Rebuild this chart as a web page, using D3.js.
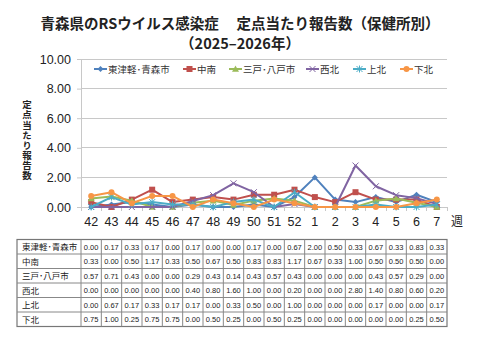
<!DOCTYPE html>
<html><head><meta charset="utf-8">
<script src="https://cdn.jsdelivr.net/npm/d3@7"></script>
<style>
html,body{margin:0;padding:0;background:#fff;}
svg{display:block;font-family:"Noto Sans CJK JP","Noto Sans",sans-serif;}
</style></head>
<body>
<svg id="c" width="480" height="360"></svg>
<script>
const weeks = ["42","43","44","45","46","47","48","49","50","51","52","1","2","3","4","5","6","7"];
const seriesNames = ["東津軽･青森市","中南","三戸･八戸市","西北","上北","下北"];
const higashiTsugaru = [0.00,0.17,0.33,0.17,0.00,0.17,0.00,0.00,0.17,0.00,0.67,2.00,0.50,0.33,0.67,0.33,0.83,0.33];
const chunan = [0.33,0.00,0.50,1.17,0.33,0.50,0.67,0.50,0.83,0.83,1.17,0.67,0.33,1.00,0.50,0.50,0.50,0.00];
const sannohe = [0.57,0.71,0.43,0.00,0.00,0.29,0.43,0.14,0.43,0.57,0.43,0.00,0.00,0.00,0.43,0.57,0.29,0.00];
const seihoku = [0.00,0.00,0.00,0.00,0.00,0.40,0.80,1.60,1.00,0.00,0.20,0.00,0.00,2.80,1.40,0.80,0.60,0.20];
const kamikita = [0.00,0.67,0.17,0.33,0.17,0.17,0.00,0.33,0.50,0.00,1.00,0.00,0.00,0.00,0.17,0.00,0.00,0.17];
const shimokita = [0.75,1.00,0.25,0.75,0.75,0.00,0.50,0.25,0.00,0.50,0.25,0.00,0.00,0.00,0.00,0.00,0.25,0.50];
const yTicks = [0,2,4,6,8,10];
const colors = ["#4F81BD","#C0504D","#9BBB59","#8064A2","#4BACC6","#F79646"];
const markers = ["diamond","square","triangle","x","star","circle"];
const allSeries = [higashiTsugaru,chunan,sannohe,seihoku,kamikita,shimokita];

const svg = d3.select("#c");
const L = 81, R = 447, T = 59, B = 207;
const x = d3.scaleBand().domain(weeks).range([L,R]);
const y = d3.scaleLinear().domain([0,10]).range([B,T]);

// title
svg.append("text").attr("x",240).attr("y",29).attr("text-anchor","middle")
  .attr("font-size",14.5).attr("font-weight","bold").attr("fill","#222")
  .text("青森県のRSウイルス感染症\u3000 定点当たり報告数（保健所別）");
svg.append("text").attr("x",240).attr("y",49).attr("text-anchor","middle")
  .attr("font-size",14.5).attr("font-weight","bold").attr("fill","#222")
  .text("（2025–2026年）");

// gridlines
svg.append("g").selectAll("line").data(yTicks).join("line")
  .attr("x1",L).attr("x2",R).attr("y1",d=>y(d)).attr("y2",d=>y(d))
  .attr("stroke","#c8c8c8").attr("stroke-width",1).attr("shape-rendering","crispEdges");

// y axis
const yAxis = svg.append("g").attr("transform",`translate(${L},0)`)
  .call(d3.axisLeft(y).tickValues(yTicks).tickFormat(d3.format(".2f")).tickSize(4).tickPadding(6));
yAxis.select(".domain").attr("stroke","#c8c8c8");
yAxis.selectAll(".tick line").attr("stroke","#c8c8c8");
yAxis.selectAll("text").attr("font-size",12.5).attr("fill","#222").attr("font-family","Liberation Sans, Arial, sans-serif");

// x axis
const xAxis = svg.append("g").attr("transform",`translate(0,${B})`)
  .call(d3.axisBottom(x).tickSize(0).tickPadding(10));
xAxis.select(".domain").attr("stroke","#c8c8c8");
xAxis.selectAll("text").attr("font-size",12.5).attr("fill","#222").attr("font-family","Liberation Sans, Arial, sans-serif");
svg.append("g").selectAll("line").data(d3.range(weeks.length+1)).join("line")
  .attr("x1",i=>L+i*x.step()).attr("x2",i=>L+i*x.step())
  .attr("y1",B).attr("y2",B+4).attr("stroke","#c8c8c8").attr("shape-rendering","crispEdges");
svg.append("text").attr("x",457).attr("y",226).attr("text-anchor","middle")
  .attr("font-size",12).attr("fill","#222").text("週");

// y axis title (vertical)
svg.append("text").attr("x",27).attr("y",100)
  .attr("writing-mode","vertical-rl").style("writing-mode","vertical-rl")
  .attr("font-size",9.5).attr("letter-spacing",0.6).attr("font-weight","bold").attr("fill","#222")
  .text("定点当たり報告数");

function drawMarker(g, type, cx, cy, color){
  const s = 3;
  if(type==="diamond"){
    g.append("path").attr("d",`M${cx},${cy-s}L${cx+s},${cy}L${cx},${cy+s}L${cx-s},${cy}Z`).attr("fill",color);
  } else if(type==="square"){
    g.append("rect").attr("x",cx-3).attr("y",cy-3).attr("width",6).attr("height",6).attr("fill",color);
  } else if(type==="triangle"){
    g.append("path").attr("d",`M${cx},${cy-3.5}L${cx+3.5},${cy+2.8}L${cx-3.5},${cy+2.8}Z`).attr("fill",color);
  } else if(type==="x"){
    g.append("path").attr("d",`M${cx-3},${cy-3}L${cx+3},${cy+3}M${cx-3},${cy+3}L${cx+3},${cy-3}`).attr("stroke",color).attr("stroke-width",1);
  } else if(type==="star"){
    g.append("path").attr("d",`M${cx-3},${cy-3}L${cx+3},${cy+3}M${cx-3},${cy+3}L${cx+3},${cy-3}M${cx},${cy-3.5}L${cx},${cy+3.5}`).attr("stroke",color).attr("stroke-width",1);
  } else {
    g.append("circle").attr("cx",cx).attr("cy",cy).attr("r",3).attr("fill",color);
  }
}

const cx = d => x(d) + x.bandwidth()/2;
const line = d3.line().x((d,i)=>cx(weeks[i])).y(d=>y(d));
allSeries.forEach((vals,si)=>{
  const g = svg.append("g");
  g.append("path").datum(vals).attr("d",line).attr("fill","none")
    .attr("stroke",colors[si]).attr("stroke-width",2).attr("stroke-linejoin","round");
  vals.forEach((v,i)=>drawMarker(g, markers[si], cx(weeks[i]), y(v), colors[si]));
});

// legend
const legX = [94,183,229,306,353,400];
const leg = svg.append("g");
seriesNames.forEach((n,i)=>{
  const lx = legX[i], ly = 69;
  leg.append("line").attr("x1",lx).attr("x2",lx+13).attr("y1",ly).attr("y2",ly)
    .attr("stroke",colors[i]).attr("stroke-width",2);
  drawMarker(leg, markers[i], lx+6.5, ly, colors[i]);
  leg.append("text").attr("x",lx+14).attr("y",ly+3.5).attr("font-size",9.5).attr("fill","#333").text(n);
});

// table
const tT = 239.5, rowH = 14.5, tL = 17;
const tg = svg.append("g");
tg.append("rect").attr("x",tL).attr("y",tT).attr("width",R-tL).attr("height",rowH*6)
  .attr("fill","none").attr("stroke","#777").attr("stroke-width",1.2);
for(let r=1;r<6;r++){
  tg.append("line").attr("x1",tL).attr("x2",R).attr("y1",tT+r*rowH).attr("y2",tT+r*rowH)
    .attr("stroke","#888").attr("stroke-width",1);
}
tg.selectAll("line.col").data(weeks).join("line").attr("class","col")
  .attr("x1",d=>x(d)).attr("x2",d=>x(d)).attr("y1",tT).attr("y2",tT+rowH*6)
  .attr("stroke","#888").attr("stroke-width",1);
allSeries.forEach((vals,si)=>{
  const yy = tT + si*rowH + rowH/2 + 3;
  tg.append("text").attr("x",tL+5).attr("y",yy+0.5).attr("font-size",8.5).attr("fill","#222").text(seriesNames[si]);
  tg.selectAll(null).data(vals).join("text")
    .attr("x",(d,i)=>cx(weeks[i])).attr("y",yy).attr("text-anchor","middle")
    .attr("font-size",7.5).attr("fill","#222").attr("font-family","Liberation Sans, Arial, sans-serif")
    .text(d=>d.toFixed(2));
});
</script>
</body></html>
